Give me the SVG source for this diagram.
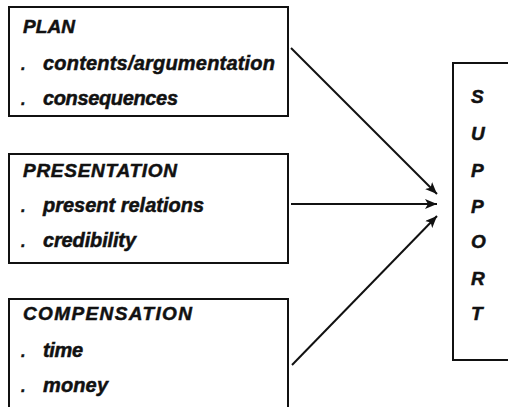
<svg xmlns="http://www.w3.org/2000/svg" width="508" height="407" viewBox="0 0 508 407">
<style>
.box{fill:#fff;stroke:#111;stroke-width:2}
.t{font-family:"Liberation Sans",Arial,sans-serif;font-weight:bold;font-style:italic;font-size:20px;fill:#111;stroke:#111;stroke-width:0.5}
.h{font-size:19px}
.d{font-size:16px}
.c{stroke:#111;stroke-width:2;fill:none;marker-end:url(#ah)}
</style>
<defs>
<marker id="ah" viewBox="0 0 12 10" refX="12" refY="5" markerWidth="12" markerHeight="10" markerUnits="userSpaceOnUse" orient="auto">
<path d="M0,0 L12,5 L0,10 L3,5 Z" fill="#111"/>
</marker>
</defs>
<g id="plan">
<rect class="box" x="9" y="7" width="279" height="109"/>
<text class="t h" x="23" y="33" textLength="52" lengthAdjust="spacing">PLAN</text>
<text class="t d" x="21" y="70">.</text>
<text class="t" x="43" y="70" textLength="232" lengthAdjust="spacing">contents/argumentation</text>
<text class="t d" x="21" y="105">.</text>
<text class="t" x="43" y="105" textLength="135" lengthAdjust="spacing">consequences</text>
</g>
<g id="presentation">
<rect class="box" x="9" y="154" width="279" height="109"/>
<text class="t h" x="23" y="177" textLength="154" lengthAdjust="spacing">PRESENTATION</text>
<text class="t d" x="21" y="212">.</text>
<text class="t" x="43" y="212" textLength="161" lengthAdjust="spacing">present relations</text>
<text class="t d" x="21" y="247">.</text>
<text class="t" x="43" y="247" textLength="93" lengthAdjust="spacing">credibility</text>
</g>
<g id="compensation">
<rect class="box" x="9" y="299" width="279" height="120"/>
<text class="t h" x="23" y="320" textLength="169" lengthAdjust="spacing">COMPENSATION</text>
<text class="t d" x="21" y="357">.</text>
<text class="t" x="43" y="357" textLength="40" lengthAdjust="spacing">time</text>
<text class="t d" x="21" y="392">.</text>
<text class="t" x="43" y="392" textLength="65" lengthAdjust="spacing">money</text>
</g>
<g id="support">
<rect class="box" x="453" y="63" width="70" height="297"/>
<text class="t h" x="471" y="103">S</text>
<text class="t h" x="471" y="140">U</text>
<text class="t h" x="471" y="177">P</text>
<text class="t h" x="471" y="213">P</text>
<text class="t h" x="471" y="248">O</text>
<text class="t h" x="471" y="285">R</text>
<text class="t h" x="471" y="320">T</text>
</g>
<g id="connectors">
<line class="c" x1="291" y1="48" x2="437" y2="194"/>
<line class="c" x1="291" y1="204" x2="437" y2="204"/>
<line class="c" x1="292" y1="365" x2="437" y2="216"/>
</g>
</svg>
